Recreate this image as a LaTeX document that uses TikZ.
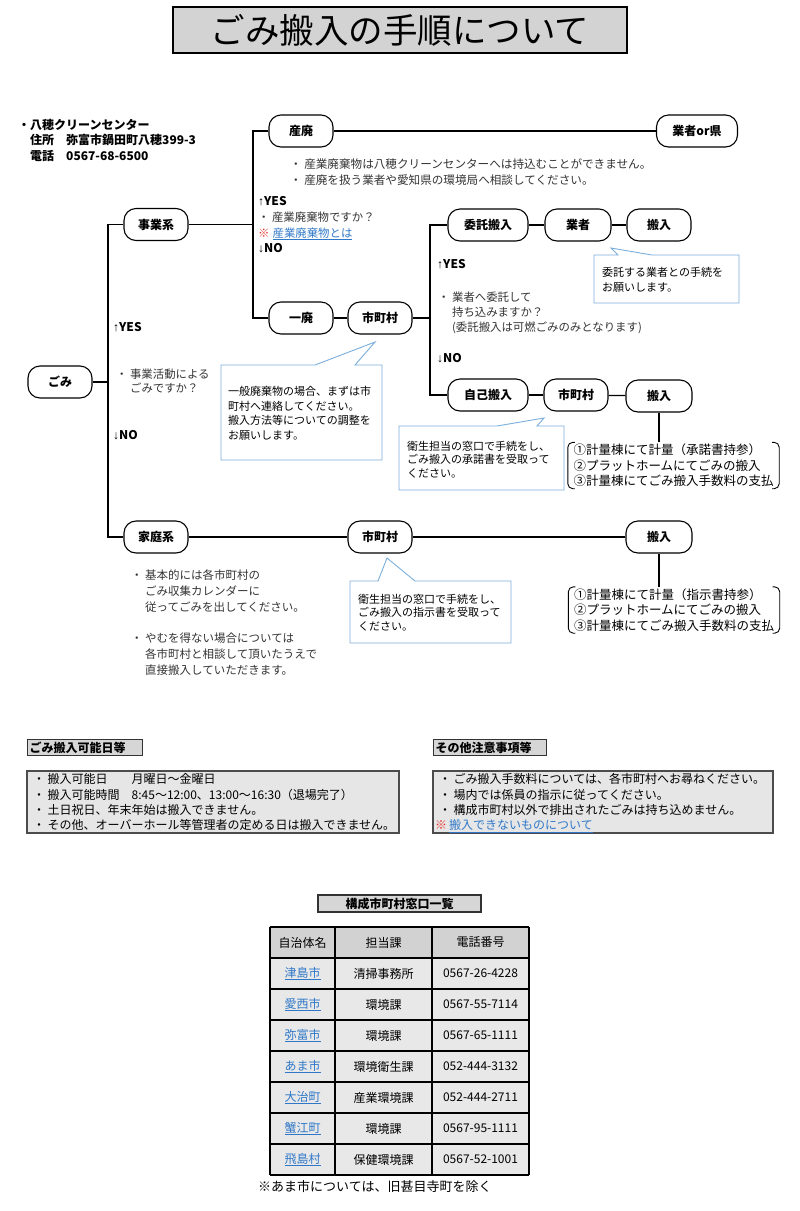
\documentclass[tikz,border=0pt]{standalone}
\usepackage{fontspec}
\setmainfont{Noto Sans CJK JP}
\newfontfamily\arrowfont{Liberation Sans}
\newcommand{\sz}[2]{\fontsize{#1}{#2}\selectfont}
\newcommand{\bul}{・\hspace{2.5pt}}
\newcommand{\ind}{\hphantom{・}\hspace{2.5pt}}
\definecolor{linkblue}{HTML}{2F78C8}
\definecolor{notered}{HTML}{E8302A}
\definecolor{callblue}{HTML}{7AAEDC}
\definecolor{textgray}{HTML}{333333}
\definecolor{boxgray}{HTML}{E6E6E6}
\definecolor{labelgray}{HTML}{D6D6D6}
\definecolor{titlegray}{HTML}{D3D3D3}
\definecolor{headgray}{HTML}{D2D2D2}
\definecolor{cellgray}{HTML}{E8E8E8}
\newcommand{\weblink}[1]{\textcolor{linkblue}{\underline{#1}}}
\tikzset{
  box/.style={draw, line width=1.1pt, rounded corners=12pt, minimum width=64pt,
    minimum height=32pt, inner sep=0pt, font=\bfseries\sz{12}{14}},
  widebox/.style={box, minimum width=80pt},
  link/.style={line width=1.2pt},
  callout/.style={draw=callblue, fill=white, line width=0.9pt},
  note/.style={anchor=north west, align=left, inner sep=0pt},
  bullet/.style={anchor=north west, align=left, inner sep=0pt, text=textgray},
  yesno/.style={anchor=west, inner sep=0pt, font=\bfseries\sz{12}{14}},
  steps/.style={minimum width=211pt, minimum height=46pt, align=left,
    inner sep=0pt, font=\sz{12.5}{15.5}},
  paren/.style={line width=0.9pt, rounded corners=5pt},
  tag/.style={draw=black!80, fill=labelgray, line width=1.3pt, inner sep=0pt,
    font=\bfseries\sz{12}{14}},
  infobox/.style={draw=black!70, fill=boxgray, line width=1.3pt},
  grid/.style={line width=1.2pt},
  cell/.style={inner sep=0pt, font=\sz{12}{14}}
}
\begin{document}
\begin{tikzpicture}[x=1pt,y=-1pt]
  \useasboundingbox (0,0) rectangle (800,1211);

  % title
  \node[draw=black, line width=1.6pt, fill=titlegray, minimum width=454pt,
    minimum height=46pt, font=\sz{34.5}{36}] (title) at (400,30) {ごみ搬入の手順について};

  \node[anchor=north west, align=left, inner sep=0pt, font=\bfseries\sz{12}{15.8}] (center) at (18,118.6)
    {・八穂クリーンセンター\\　住所　弥富市鍋田町八穂399-3\\　電話　0567-68-6500};

  % flow nodes
  \node[box] (gomi) at (60,382) {ごみ};
  \node[box] (jigyo) at (156,224.5) {事業系};
  \node[box] (katei) at (156,537) {家庭系};
  \node[box] (sanpai) at (301,131) {産廃};
  \node[box, minimum width=81pt] (gyoken) at (697,131) {業者or県};
  \node[box] (ippai) at (301,318) {一廃};
  \node[box] (city1) at (380,318) {市町村};
  \node[widebox] (itaku) at (488,225) {委託搬入};
  \node[box, minimum width=66pt] (gyosha) at (578,225) {業者};
  \node[box] (hannyu1) at (659,225) {搬入};
  \node[widebox] (jiko) at (488,395) {自己搬入};
  \node[box] (city2) at (576,395) {市町村};
  \node[box, minimum width=66pt] (hannyu2) at (659,396) {搬入};
  \node[box] (city3) at (380,537) {市町村};
  \node[box, minimum width=66pt] (hannyu3) at (659,537) {搬入};

  \node[steps] (steps1) at (673.5,465.5)
    {①計量棟にて計量（承諾書持参）\\②プラットホームにてごみの搬入\\③計量棟にてごみ搬入手数料の支払};
  \node[steps] (steps2) at (674,610)
    {①計量棟にて計量（指示書持参）\\②プラットホームにてごみの搬入\\③計量棟にてごみ搬入手数料の支払};
  \foreach \s in {steps1,steps2} {
    \draw[paren] ([xshift=7pt]\s.north west) -- (\s.north west) -- (\s.south west) -- ([xshift=7pt]\s.south west);
    \draw[paren] ([xshift=-7pt]\s.north east) -- (\s.north east) -- (\s.south east) -- ([xshift=-7pt]\s.south east);
  }

  % connectors
  \coordinate (b1) at (108,382);
  \coordinate (b2) at (253,224.5);
  \coordinate (b3) at (430,318);
  \draw[link] (gomi) -- (b1);
  \draw[link] (jigyo.west) -| (b1) |- (katei.west);
  \draw[link] (jigyo) -- (b2);
  \draw[link] (sanpai.west) -| (b2) |- (ippai.west);
  \draw[link] (sanpai) -- (gyoken);
  \draw[link] (ippai) -- (city1);
  \draw[link] (city1) -- (b3);
  \draw[link] (itaku.west) -| (b3) |- (jiko.west);
  \draw[link] (itaku) -- (gyosha);
  \draw[link] (gyosha) -- (hannyu1);
  \draw[link] (jiko) -- (city2);
  \draw[link] (city2) -- (hannyu2);
  \draw[link] (katei) -- (city3);
  \draw[link] (city3) -- (hannyu3);
  \draw[link] (hannyu2.south) -- (hannyu2.south |- steps1.north);
  \draw[link] (hannyu3.south) -- (hannyu3.south |- steps2.north);

  % questions
  \node[yesno] (yes1) at (113,327) {{\arrowfont ↑}YES};
  \node[bullet, font=\sz{11.4}{14}] (q1) at (116,368.9) {\bul 事業活動による\\\ind ごみですか？};
  \node[yesno] (no1) at (113,435) {{\arrowfont ↓}NO};

  \node[yesno] (yes2) at (258,201) {{\arrowfont ↑}YES};
  \node[bullet, font=\sz{11.4}{15.5}] (q2) at (258,211.9)
    {\bul 産業廃棄物ですか？\\{\color{notered}※}\hspace{3pt}\weblink{産業廃棄物とは}};
  \node[yesno] (no2) at (258,248) {{\arrowfont ↓}NO};

  \node[yesno] (yes3) at (437,264) {{\arrowfont ↑}YES};
  \node[bullet, font=\sz{11.4}{15}] (q3) at (438,291.9)
    {\bul 業者へ委託して\\\ind 持ち込みますか？\\\ind (委託搬入は可燃ごみのみとなります)};
  \node[yesno] (no3) at (437,358) {{\arrowfont ↓}NO};

  \node[bullet, font=\sz{11.6}{16}] (sanpainote) at (290,158)
    {\bul 産業廃棄物は八穂クリーンセンターへは持込むことができません。\\\bul 産廃を扱う業者や愛知県の環境局へ相談してください。};
  \node[bullet, font=\sz{11.5}{16}] (katei1) at (131,570)
    {\bul 基本的には各市町村の\\\ind ごみ収集カレンダーに\\\ind 従ってごみを出してください。};
  \node[bullet, font=\sz{11.5}{16}] (katei2) at (131,633)
    {\bul やむを得ない場合については\\\ind 各市町村と相談して頂いたうえで\\\ind 直接搬入していただきます。};

  % callouts
  \draw[callout] (221,365) -- (315,365) -- (375,342) -- (355,365) -- (382,365) -- (382,460) -- (221,460) -- cycle;
  \node[note, font=\sz{11}{14.6}] (note1) at (228,386)
    {一般廃棄物の場合、まずは市\\町村へ連絡してください。\\搬入方法等についての調整を\\お願いします。};
  \draw[callout] (399,426) -- (497,426) -- (544,418) -- (537,426) -- (564,426) -- (564,490) -- (399,490) -- cycle;
  \node[note, font=\sz{11}{13.5}] (note2) at (407,441)
    {衛生担当の窓口で手続をし、\\ごみ搬入の承諾書を受取って\\ください。};
  \draw[callout] (350,581) -- (378,581) -- (387,558) -- (415,581) -- (511,581) -- (511,643) -- (350,643) -- cycle;
  \node[note, font=\sz{11}{13.5}] (note3) at (358,594)
    {衛生担当の窓口で手続をし、\\ごみ搬入の指示書を受取って\\ください。};
  \draw[callout] (594,255) -- (618,255) -- (611,248) -- (652,255) -- (739,255) -- (739,303) -- (594,303) -- cycle;
  \node[note, font=\sz{11}{15}] (note4) at (602,267)
    {委託する業者との手続を\\お願いします。};

  % days and notes
  \node[tag, anchor=north west, minimum width=115pt, minimum height=16pt, text width=111pt, align=left]
    (daystag) at (27,739) {ごみ搬入可能日等};
  \draw[infobox] (27,771) rectangle (399,833);
  \node[note, font=\sz{12}{15.3}] (days) at (33,773.6)
    {\bul 搬入可能日　　月曜日～金曜日\\\bul 搬入可能時間　8:45～12:00、13:00～16:30（退場完了）\\\bul 土日祝日、年末年始は搬入できません。\\\bul その他、オーバーホール等管理者の定める日は搬入できません。};
  \node[tag, anchor=north west, minimum width=113pt, minimum height=16pt, text width=109pt, align=left]
    (othertag) at (433,739) {その他注意事項等};
  \draw[infobox] (433,771) rectangle (773,833);
  \node[note, font=\sz{12}{15.3}] (other) at (439,773.6)
    {\bul ごみ搬入手数料については、各市町村へお尋ねください。\\\bul 場内では係員の指示に従ってください。\\\bul 構成市町村以外で排出されたごみは持ち込めません。\\\hspace{-4pt}{\color{notered}※}\hspace{2pt}\weblink{搬入できないものについて}};

  % table
  \node[tag, minimum width=163pt, minimum height=17pt] (tabletag) at (399.5,903.5) {構成市町村窓口一覧};
  \fill[headgray] (270,927) rectangle (529,958);
  \fill[cellgray] (270,958) rectangle (529,1175);
  \foreach \r in {0,...,8}
    \draw[grid] (270,927+31*\r) -- (529,927+31*\r);
  \foreach \x in {270,335,432,529}
    \draw[grid] (\x,927) -- (\x,1175);
  \node[cell] (head1) at (302.5,942.5) {自治体名};
  \node[cell] (head2) at (383.5,942.5) {担当課};
  \node[cell] (head3) at (480.5,942.5) {電話番号};
  \foreach \city/\dept/\tel [count=\r] in {津島市/清掃事務所/0567-26-4228, 愛西市/環境課/0567-55-7114,
      弥富市/環境課/0567-65-1111, あま市/環境衛生課/052-444-3132, 大治町/産業環境課/052-444-2711,
      蟹江町/環境課/0567-95-1111, 飛島村/保健環境課/0567-52-1001} {
    \node[cell] (city\r) at (302.5,942.5+31*\r) {\weblink{\city}};
    \node[cell] (dept\r) at (383.5,942.5+31*\r) {\dept};
    \node[cell] (tel\r) at (480.5,942.5+31*\r) {\tel};
  }
  \node[anchor=west, inner sep=0pt, font=\sz{13}{15}] (foot) at (258,1187) {※あま市については、旧甚目寺町を除く};
\end{tikzpicture}
\end{document}
